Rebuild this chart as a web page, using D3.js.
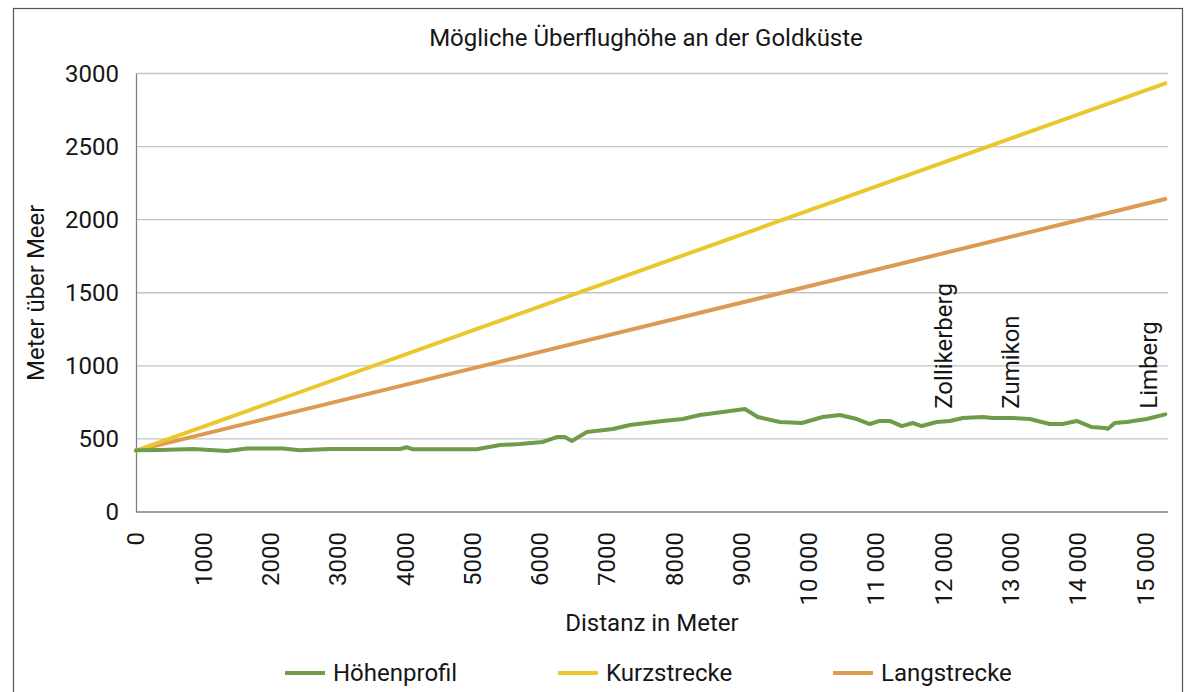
<!DOCTYPE html>
<html>
<head>
<meta charset="utf-8">
<script src="https://cdn.jsdelivr.net/npm/d3@7"></script>
<style>
  body { margin: 0; background: #fff; }
  text { font-family: Roboto, "Noto Sans", sans-serif; fill: #161616; }
</style>
</head>
<body>
<svg></svg>
<script>
// Höhenprofil: distance (m) and elevation (m ü. M.)
let profilDistanz = [0, 357, 847, 1100, 1352, 1649, 2184, 2437, 2883, 3923, 4027, 4116, 5067, 5409, 5706,
  6048, 6256, 6375, 6479, 6702, 7088, 7341, 7831, 8128, 8381, 8723, 9050, 9243, 9570, 9897, 10209,
  10461, 10714, 10907, 11056, 11204, 11383, 11546, 11680, 11903, 12096, 12289, 12586, 12735, 13032,
  13285, 13582, 13775, 13983, 14206, 14399, 14444, 14548, 14726, 15023, 15300];
let profilHoehe = [422, 424, 431, 424, 417, 434, 434, 422, 431, 431, 443, 429, 429, 458, 465,
  479, 513, 513, 486, 547, 568, 595, 623, 636, 664, 684, 705, 650, 616, 609, 650,
  664, 636, 602, 623, 623, 588, 609, 588, 616, 623, 643, 650, 643, 643,
  636, 602, 602, 623, 581, 575, 568, 609, 616, 636, 668];

// Kurzstrecke / Langstrecke: straight climb lines
let steigDistanz = [0, 15300];
let kurzHoehe = [420, 2933];
let langHoehe = [420, 2141];

// place labels along the profile
let ortNamen = ['Zollikerberg', 'Zumikon', 'Limberg'];
let ortDistanz = [12000, 13000, 15050];
let ortHoehe = [720, 720, 720];

let xTicks = d3.range(0, 15001, 1000);
let yTicks = [0, 500, 1000, 1500, 2000, 2500, 3000];
let serienNamen = ['Höhenprofil', 'Kurzstrecke', 'Langstrecke'];
let serienFarben = ['#6f9b4b', '#ebc72c', '#dc9a52'];

let width = 1189;
let height = 692;
let fontSize = '24px';

let svg = d3.select('svg')
            .attr('width', width)
            .attr('height', height);

// outer frame
svg.append('rect')
   .attr('x', 13.5).attr('y', 8.5)
   .attr('width', 1169).attr('height', 700)
   .attr('fill', 'none')
   .attr('stroke', '#555')
   .attr('stroke-width', 1.2);

let x = d3.scaleLinear().domain([0, 15340]).range([136, 1168]);
let y = d3.scaleLinear().domain([0, 3000]).range([512, 73.5]);

// grid
svg.append('g')
   .selectAll('line')
   .data(yTicks.slice(1))
   .enter()
   .append('line')
   .attr('x1', x(0)).attr('x2', x.range()[1])
   .attr('y1', d => y(d)).attr('y2', d => y(d))
   .attr('stroke', '#c4c4c4')
   .attr('stroke-width', 1.3);

// axes
let yAxis = d3.axisLeft(y).tickValues(yTicks).tickFormat(d => String(d)).tickSize(0).tickPadding(17);
let gy = svg.append('g').attr('transform', `translate(${x(0)},0)`).call(yAxis);
gy.select('.domain').attr('stroke', '#808080').attr('stroke-width', 1.3);
gy.selectAll('text').style('font-size', fontSize).style('font-family', null).attr('fill', '#161616');
gy.attr('font-family', null);

svg.append('line')
   .attr('x1', x(0)).attr('x2', x.range()[1])
   .attr('y1', y(0)).attr('y2', y(0))
   .attr('stroke', '#808080')
   .attr('stroke-width', 1.3);

// x tick labels, rotated; space as thousands separator from 10 000
let fmtX = function(d) {
  return d < 10000 ? String(d) : String(d).replace(/(\d)(?=(\d{3})+$)/g, '$1 ');
};

svg.append('g')
   .selectAll('text')
   .data(xTicks)
   .enter()
   .append('text')
   .attr('transform', d => `translate(${x(d)},532) rotate(-90)`)
   .attr('text-anchor', 'end')
   .attr('dy', '0.35em')
   .style('font-size', fontSize)
   .text(fmtX);

// lines
let line = d3.line()
             .x(d => x(d[0]))
             .y(d => y(d[1]));

let serien = [
  d3.zip(profilDistanz, profilHoehe),
  d3.zip(steigDistanz, kurzHoehe),
  d3.zip(steigDistanz, langHoehe)
];

svg.append('g')
   .selectAll('path')
   .data([serien[2], serien[1], serien[0]])
   .enter()
   .append('path')
   .attr('d', line)
   .attr('fill', 'none')
   .attr('stroke', (d, i) => serienFarben[2 - i])
   .attr('stroke-width', 4)
   .attr('stroke-linejoin', 'round')
   .attr('stroke-linecap', 'round');

// place labels
svg.append('g')
   .selectAll('text')
   .data(ortNamen)
   .enter()
   .append('text')
   .attr('transform', (d, i) => `translate(${x(ortDistanz[i])},${y(ortHoehe[i]) + 2}) rotate(-90)`)
   .attr('dy', '0.35em')
   .style('font-size', fontSize)
   .text(d => d);

// titles
svg.append('text')
   .attr('x', 646).attr('y', 46)
   .attr('text-anchor', 'middle')
   .style('font-size', fontSize)
   .text('Mögliche Überflughöhe an der Goldküste');

svg.append('text')
   .attr('x', (x(0) + x.range()[1]) / 2).attr('y', 631)
   .attr('text-anchor', 'middle')
   .style('font-size', fontSize)
   .text('Distanz in Meter');

svg.append('text')
   .attr('transform', `translate(36,${(y(0) + y(3000)) / 2}) rotate(-90)`)
   .attr('text-anchor', 'middle')
   .attr('dy', '0.35em')
   .style('font-size', fontSize)
   .text('Meter über Meer');

// legend
let legendX = [285, 558, 833];
let legend = svg.append('g')
                .selectAll('g')
                .data(serienNamen)
                .enter()
                .append('g')
                .attr('transform', (d, i) => `translate(${legendX[i]},673)`);

legend.append('line')
      .attr('x1', 0).attr('x2', 40)
      .attr('stroke', (d, i) => serienFarben[i])
      .attr('stroke-width', 4);

legend.append('text')
      .attr('x', 48)
      .attr('dy', '0.35em')
      .style('font-size', fontSize)
      .text(d => d);
</script>
</body>
</html>
